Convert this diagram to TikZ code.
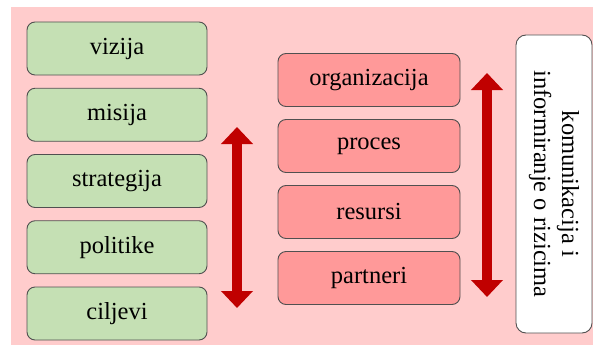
\documentclass[tikz,border=0pt]{standalone}
\usepackage{fontspec}
\setmainfont{Liberation Serif}
\usetikzlibrary{arrows.meta}

\definecolor{bgpink}{HTML}{FFCCCC}
\definecolor{boxgreen}{HTML}{C5E0B4}
\definecolor{boxred}{HTML}{FF9999}
\definecolor{arrred}{HTML}{C00000}
\definecolor{edgegray}{HTML}{505050}

\tikzset{
  goal/.style={draw=edgegray, line width=0.9pt, fill=boxgreen, rounded corners=8pt,
    minimum width=180pt, minimum height=53pt, inner sep=0pt},
  resource/.style={draw=edgegray, line width=0.9pt, fill=boxred, rounded corners=8pt,
    minimum width=182pt, minimum height=53pt, inner sep=0pt},
  bigarrow/.style={arrred, line width=10pt,
    {Triangle[width=31pt,length=17pt]}-{Triangle[width=31pt,length=17pt]}}
}

\begin{document}
\begin{tikzpicture}[x=1pt,y=-1pt,font=\fontsize{24.5}{28}\selectfont]
   \useasboundingbox (0,0) rectangle (593,345);
   \fill[bgpink] (11,7) rectangle (593,345);

   \node[goal] (g1) at (117,48.5)   {vizija};
   \node[goal] (g2) at (117,114.75) {misija};
   \node[goal] (g3) at (117,181)    {strategija};
   \node[goal] (g4) at (117,247.25) {politike};
   \node[goal] (g5) at (117,313.5)  {ciljevi};

   \node[resource] (r1) at (369,80)  {organizacija};
   \node[resource] (r2) at (369,146) {proces};
   \node[resource] (r3) at (369,212) {resursi};
   \node[resource] (r4) at (369,278) {partneri};

   \node[draw=edgegray, line width=0.9pt, fill=white, rounded corners=10pt,
         minimum width=76pt, minimum height=298pt, inner sep=0pt] (kom) at (554,184) {};
   \node[rotate=-90, align=center] (komtext) at (kom.center)
         {komunikacija i\\informiranje o rizicima};

   \coordinate (la) at (237,127);
   \coordinate (lb) at (237,308);
   \coordinate (ra) at (487,73);
   \coordinate (rb) at (487,297);

   \draw[bigarrow] (la) -- (lb);
   \draw[bigarrow] (ra) -- (rb);

\end{tikzpicture}
\end{document}
